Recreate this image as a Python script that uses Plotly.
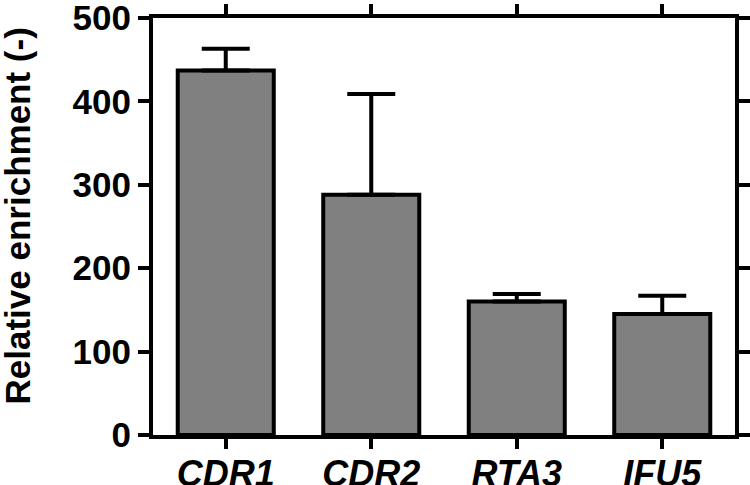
import plotly.graph_objects as go

genes = ['CDR1', 'CDR2', 'RTA3', 'IFU5']
enrichment = [437, 288, 160, 145]
sem = [26, 121, 9, 22]

y_ticks = [0, 100, 200, 300, 400, 500]
y_title = 'Relative enrichment (-)'

fig = go.Figure()

fig.add_trace(go.Bar(x=genes, y=enrichment,
                     width=0.66,
                     marker=dict(color='#808080',
                                 line=dict(color='black', width=4)),
                     error_y=dict(type='data', array=sem,
                                  arrayminus=[0] * len(sem),
                                  symmetric=False,
                                  color='black', thickness=4, width=24),
                     showlegend=False))

fig.update_xaxes(showline=True, linecolor='black', linewidth=4,
                 mirror='ticks', ticks='outside', ticklen=10,
                 tickwidth=4, tickcolor='black',
                 tickfont=dict(family='Liberation Sans', size=36,
                               color='black', weight='bold', style='italic'),
                 ticklabelstandoff=-6, ticklabeloverflow='allow',
                 range=[-0.5, 3.5], showgrid=False, zeroline=False,
                 automargin=False)

fig.update_yaxes(showline=True, linecolor='black', linewidth=4,
                 mirror='ticks', ticks='outside', ticklen=11,
                 tickwidth=4, tickcolor='black',
                 tickvals=y_ticks, range=[0, 500],
                 tickfont=dict(family='Liberation Sans', size=35,
                               color='black', weight='bold'),
                 ticklabeloverflow='allow',
                 showgrid=False, zeroline=False, automargin=False)

# y title as a rotated annotation, it sits a bit above the plot centre
fig.add_annotation(text=y_title, textangle=-90, showarrow=False,
                   xref='paper', yref='paper', x=-0.233, y=0.525,
                   xanchor='center', yanchor='middle',
                   font=dict(family='Liberation Sans', size=35,
                             color='black', weight='bold'))

fig.update_layout(width=750, height=485,
                  margin=dict(l=153, r=15, t=18, b=50),
                  plot_bgcolor='white', paper_bgcolor='white')

# no default page margin, so the figure sits at the window's corner
fig.write_html('out.html', config={'displayModeBar': False},
               post_script="document.body.style.margin='0';")
